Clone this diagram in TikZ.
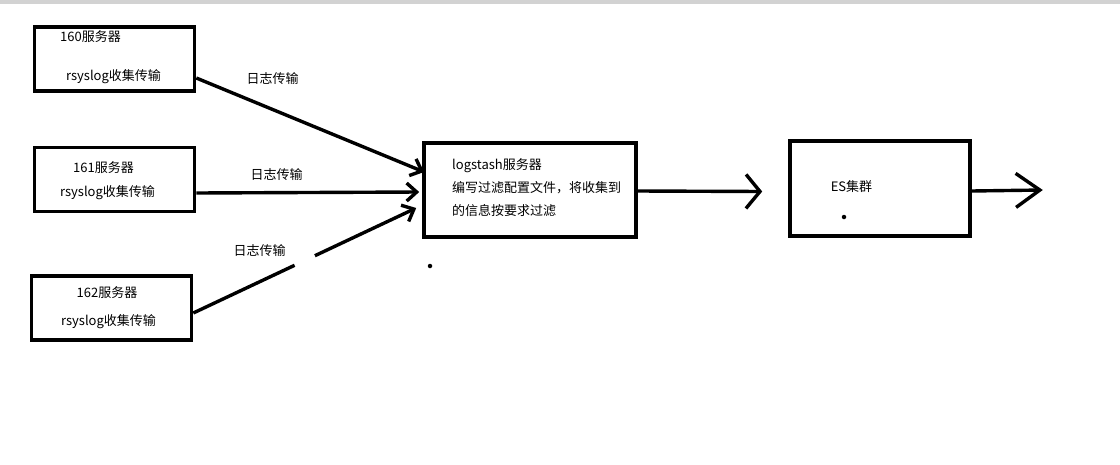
\documentclass[tikz,border=0pt]{standalone}
\usepackage{fontspec}
\setmainfont{Noto Sans CJK SC}
\usetikzlibrary{arrows.meta}
\definecolor{topbar}{RGB}{210,210,210}
\tikzset{%
	block/.style    = {draw, line width = 3.6pt, rectangle, minimum width = 160pt,
		minimum height = 64pt}, % Server
	txt/.style      = {inner sep = 0pt, font = \fontsize{13pt}{23pt}\selectfont}, % Text
	link/.style     = {line width = 3.4pt, -{Straight Barb[length=10pt, width=18pt]}}, % Log line
	flow/.style     = {line width = 3.4pt, -{Straight Barb[length=14pt, width=34pt]}}, % Output
	spot/.style     = {circle, fill, inner sep = 0pt, minimum size = 4.5pt} % Dot
}

\begin{document}
\begin{tikzpicture}[x=1pt,y=-1pt]
                \useasboundingbox (0,0) rectangle (1120,464);
                \fill[topbar] (0,0) rectangle (1120,4);

                \node[block] (s160) at (114.5,59)  {};
                \node[block] (s161) at (114.5,179.5) {};
                \node[block] (s162) at (111.5,308) {};
                \node[block, minimum width = 212pt, minimum height = 94pt] (ls) at (530,190) {};
                \node[block, minimum width = 180pt, minimum height = 95pt] (es) at (880,188.5) {};

                \node[txt] (t160a) at (90.5,37)  {160服务器};
                \node[txt] (t160b) at (113.5,77) {rsyslog收集传输};
                \node[txt] (t161a) at (103.5,168) {161服务器};
                \node[txt] (t161b) at (107.5,193) {rsyslog收集传输};
                \node[txt] (t162a) at (107,293)  {162服务器};
                \node[txt] (t162b) at (108.5,322) {rsyslog收集传输};
                \node[txt, align=left, anchor=west] (lstxt) at (452,188)
                    {logstash服务器\\编写过滤配置文件，将收集到\\的信息按要求过滤};
                \node[txt] (estxt) at (851.5,187) {ES集群};

                \node[txt] (m1) at (272.5,79)  {日志传输};
                \node[txt] (m2) at (276.5,175) {日志传输};
                \node[txt] (m3) at (259.5,251) {日志传输};

                \coordinate (in1) at ([xshift=2pt,yshift=18pt]ls.west);
                \coordinate (in2) at ([xshift=-3pt,yshift=-2pt]ls.west);
                \coordinate (in3) at ([xshift=-6pt,yshift=-18pt]ls.west);
                \coordinate (toes) at ([xshift=-26pt,yshift=-3pt]es.west);
                \coordinate (out) at ([xshift=71pt,yshift=-1.5pt]es.east);

                \draw[link] ([yshift=-19pt]s160.east)   -- (in1);
                \draw[link] ([yshift=-13.5pt]s161.east) -- (in2);
                \draw[link] ([yshift=-5pt]s162.east)    -- (in3)
                    coordinate[pos=0.455] (gapa) coordinate[pos=0.545] (gapb);
                \draw[white, line width=6pt] (gapa) -- (gapb);
                \draw[flow] ([yshift=-1pt]ls.east) -- (toes);
                \draw[flow, -{Straight Barb[length=24pt, width=34pt]}] ([yshift=-2.5pt]es.east) -- (out);

                \node[spot] (d1) at (430,266) {};
                \node[spot] (d2) at (844,217) {};
            \end{tikzpicture}
\end{document}
